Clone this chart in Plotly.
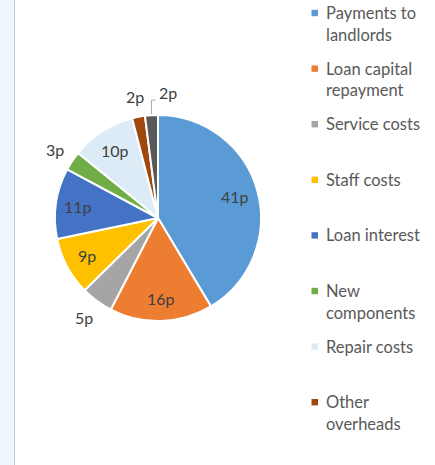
import math
import plotly.graph_objects as go

categories = ["Payments to landlords", "Loan capital repayment", "Service costs",
              "Staff costs", "Loan interest", "New components", "Repair costs",
              "Other overheads", "Other"]
values = [41, 16, 5, 9, 11, 3, 10, 2, 2]
slice_text = ["41p", "16p", "5p", "9p", "11p", "3p", "10p", "2p", "2p"]
text_outside = [False, False, True, False, False, True, False, True, True]
text_leader = [False, False, False, False, False, False, False, False, True]
legend_lines = [["Payments to", "landlords"], ["Loan capital", "repayment"],
                ["Service costs"], ["Staff costs"], ["Loan interest"],
                ["New", "components"], ["Repair costs"], ["Other", "overheads"]]
colors = ["#5B9BD5", "#ED7D31", "#A5A5A5", "#FFC000", "#4472C4", "#70AD47",
          "#DDEBF7", "#9E480E", "#595959"]

W, H = 435, 465
FONT = "Lato"
TXT = "#404040"


def px(x):
    return x / W


def py(y):
    return 1 - y / H


cx, cy, r = 158, 218, 103

fig = go.Figure(go.Pie(
    labels=categories, values=values, textinfo="none",
    sort=False, direction="clockwise", rotation=0,
    marker=dict(colors=colors, line=dict(color="white", width=2)),
    domain=dict(x=[px(cx - r), px(cx + r)], y=[py(cy + r), py(cy - r)]),
    showlegend=False, hoverinfo="label+value",
))

shapes = [
    dict(type="rect", xref="paper", yref="paper", x0=0, x1=px(14), y0=0, y1=1,
         fillcolor="#EFF6FD", line=dict(width=0), layer="below"),
    dict(type="line", xref="paper", yref="paper", x0=px(14.5), x1=px(14.5), y0=0, y1=1,
         line=dict(color="#C8C8C8", width=1)),
]
annotations = []

# data labels placed along each slice's mid angle
total = sum(values)
cum = 0
for i, v in enumerate(values):
    mid = (cum + v / 2) / total * 2 * math.pi
    cum += v
    sx, sy = math.sin(mid), -math.cos(mid)
    font = dict(family=FONT, size=16, color=TXT)
    if text_leader[i]:
        x0, y0 = cx + (r + 1) * sx, cy + (r + 1) * sy
        ey = cy - r - 15
        ex = x0 + 4
        shapes.append(dict(type="path", xref="paper", yref="paper",
                           path=f"M {px(x0)},{py(y0)} L {px(x0)},{py(ey)} L {px(ex)},{py(ey)}",
                           line=dict(color="#A6A6A6", width=1)))
        annotations.append(dict(text=slice_text[i], xref="paper", yref="paper",
                                x=px(ex + 2), y=py(ey - 7), xanchor="left", yanchor="middle",
                                showarrow=False, font=font))
    elif text_outside[i]:
        rr = r + 21
        annotations.append(dict(text=slice_text[i], xref="paper", yref="paper",
                                x=px(cx + rr * sx), y=py(cy + rr * sy),
                                xanchor="center", yanchor="middle",
                                showarrow=False, font=font))
    else:
        rr = r * 0.78
        annotations.append(dict(text=slice_text[i], xref="paper", yref="paper",
                                x=px(cx + rr * sx), y=py(cy + rr * sy),
                                xanchor="center", yanchor="middle",
                                showarrow=False, font=font))

# legend
for i, lines in enumerate(legend_lines):
    y0 = 13 + i * 55.6
    shapes.append(dict(type="rect", xref="paper", yref="paper",
                       x0=px(311.5), x1=px(318), y0=py(y0 + 3.2), y1=py(y0 - 3.2),
                       fillcolor=colors[i], line=dict(width=0)))
    for j, t in enumerate(lines):
        annotations.append(dict(text=t, xref="paper", yref="paper", x=px(324),
                                y=py(y0 + j * 21.5), xanchor="left", yanchor="middle",
                                showarrow=False,
                                font=dict(family=FONT, size=16.5, color="#595959")))

fig.update_layout(
    width=W, height=H, margin=dict(l=0, r=0, t=0, b=0),
    paper_bgcolor="white", plot_bgcolor="white",
    shapes=shapes, annotations=annotations,
)
fig.write_html("out.html", config={"displayModeBar": False},
               post_script="document.body.style.margin='0';")
